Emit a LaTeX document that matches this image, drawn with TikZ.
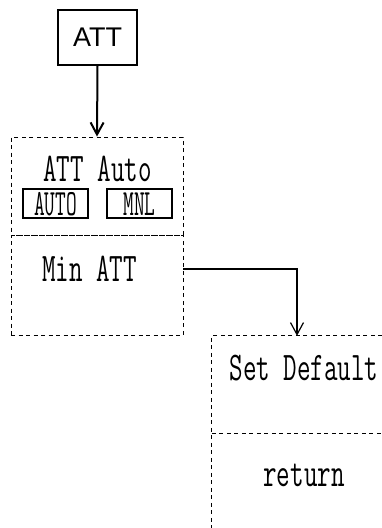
\documentclass[tikz,border=0pt]{standalone}
\usepackage{fontspec}
\usepackage{graphicx}
\usetikzlibrary{arrows.meta}
\newfontfamily\arialfont{Liberation Sans}
\newcommand{\cnd}[3][1.1]{\scalebox{#2}[#1]{\ttfamily\fontsize{37}{40}\selectfont #3}}
\begin{document}
\begin{tikzpicture}[x=1pt,y=-1pt,
  dline/.style={dashed, dash pattern=on 4pt off 3.5pt, line width=0.9pt},
  dbox/.style={draw, dline, rectangle, inner sep=0pt},
  selbox/.style={draw, line width=1.2pt, rectangle, inner sep=0pt, minimum width=65pt, minimum height=29pt},
  lbl/.style={anchor=base, inner sep=0pt},
  tip/.style={-{Straight Barb[length=12pt,width=13pt]}}]
\useasboundingbox (0,0) rectangle (382,528);
% top box
\node[draw, line width=2pt, minimum width=79pt, minimum height=55pt, inner sep=0pt,
      font=\arialfont\fontsize{27}{30}\selectfont] (att) at (97.5,37.5) {ATT};
% first dashed menu
\node[dbox, minimum width=172pt, minimum height=98pt] (auto) at (97,186) {};
\node[dbox, minimum width=172pt, minimum height=100pt] (min) at (97,285) {};
\node[lbl] (autot) at (97.5,181) {\cnd{0.71}{ATT Auto}};
\node[selbox] (bauto) at (55.5,203.5) {};
\node[selbox] (bmnl) at (139.5,203.5) {};
\node[lbl] (bautot) at (55.5,215) {\cnd[1.0]{0.56}{AUTO}};
\node[lbl] (bmnlt) at (139.5,215) {\cnd[1.0]{0.56}{MNL}};
\node[lbl] (mint) at (89.5,281) {\cnd{0.71}{Min ATT}};
% second dashed menu (runs off the page)
\node[inner sep=0pt, minimum width=170pt, minimum height=97pt] (sd) at (297,384.5) {};
\node[inner sep=0pt, minimum width=170pt, minimum height=95pt] (ret) at (297,480.5) {};
\draw[dline] (sd.north east) -- (sd.north west) -- (ret.south west);
\draw[dline] (sd.south west) -- (sd.south east);
\node[lbl] (sdt) at (304,380) {\cnd{0.71}{Set Default}};
\node[lbl] (rett) at (304,486) {\cnd{0.71}{return}};
% connectors
\draw[line width=2pt, tip] (att.south) -- (auto.north);
\coordinate (c1) at ([yshift=16pt]min.east);
\draw[line width=1.2pt, tip] (c1) -| (sd.north);
\end{tikzpicture}
\end{document}
